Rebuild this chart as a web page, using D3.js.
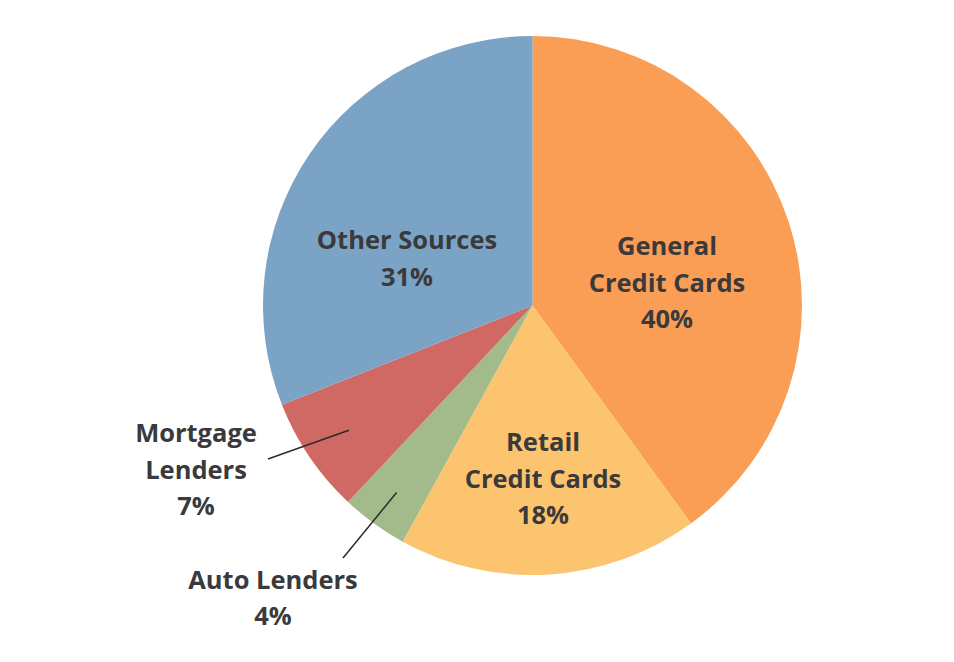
<!DOCTYPE html>
<html><head><meta charset="utf-8">
<script src="https://cdn.jsdelivr.net/npm/d3@7"></script>
<style>body{margin:0;background:#fff;} svg{display:block;}</style>
</head><body>
<svg id="c" width="954" height="662"></svg>
<script>
const categories = ["General Credit Cards","Retail Credit Cards","Auto Lenders","Mortgage Lenders","Other Sources"];
const values = [40,18,4,7,31];
const colors = ["#FB9E55","#FDC46F","#A3BA8A","#D06863","#7BA3C5"];
const labelLines = [["General","Credit Cards","40%"],["Retail","Credit Cards","18%"],["Auto Lenders","4%"],["Mortgage","Lenders","7%"],["Other Sources","31%"]];

const svg = d3.select("#c");
const cx = 532.5, cy = 305.5, r = 269.5;
const g = svg.append("g").attr("transform",`translate(${cx},${cy})`);
const pie = d3.pie().sort(null).value(d=>d);
const arcs = pie(values);
const arc = d3.arc().innerRadius(0).outerRadius(r);
g.selectAll("path").data(arcs).join("path").attr("d",arc).attr("fill",(d,i)=>colors[i]);

// label anchor offsets relative to pie center; leader lines for small slices
const labelSpec = [
  {pos:[134.5,-22.5]},
  {pos:[10.5,173.5]},
  {pos:[-259.5,292.5], lineIn:0.858, lineOut:[-189.5,252.5]},
  {pos:[-336.5,164.5], lineIn:0.824, lineOut:[-264.5,153.5]},
  {pos:[-125.5,-47]}
];
const fontSize = 25.5, lh = 36.5;
arcs.forEach((a,i)=>{
  const s = labelSpec[i];
  const mid = (a.startAngle+a.endAngle)/2;
  const [x,y] = s.pos;
  if (s.lineIn){
    const lx = Math.sin(mid)*r*s.lineIn, ly = -Math.cos(mid)*r*s.lineIn;
    g.append("line").attr("x1",lx).attr("y1",ly).attr("x2",s.lineOut[0]).attr("y2",s.lineOut[1])
      .attr("stroke","#2b2b2b").attr("stroke-width",1.5);
  }
  const lines = labelLines[i];
  const t = g.append("text").attr("text-anchor","middle")
    .attr("font-family","'Open Sans', sans-serif").attr("font-weight","bold")
    .attr("font-size",fontSize).attr("fill","#3a3a3c");
  lines.forEach((ln,j)=>{
    t.append("tspan").attr("x",x).attr("y", y + (j-(lines.length-1)/2)*lh).attr("dy","0.35em").text(ln);
  });
});
</script>
</body></html>
